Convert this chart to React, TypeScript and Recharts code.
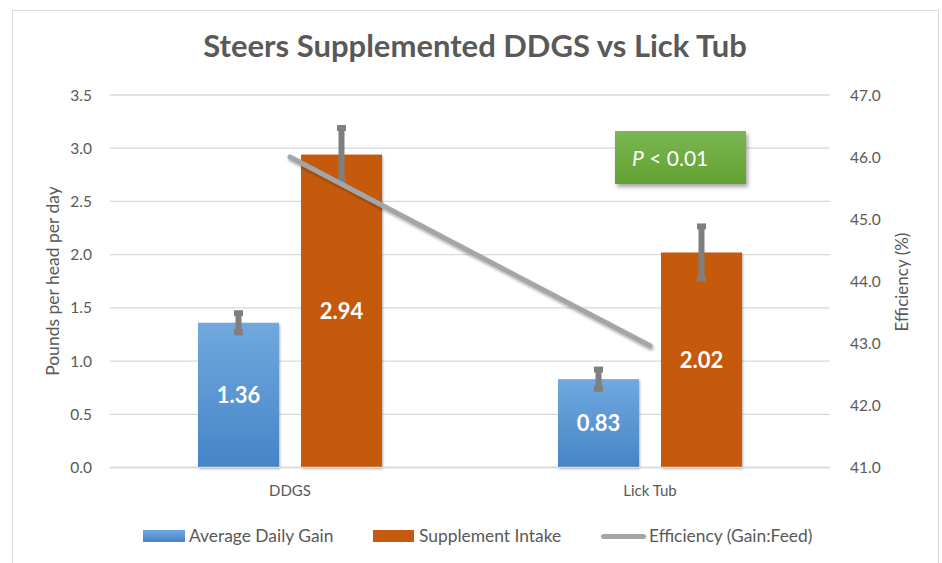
import React from 'react';
import {
  ComposedChart,
  Bar,
  Line,
  XAxis,
  YAxis,
  CartesianGrid,
  ErrorBar,
  LabelList,
} from 'recharts';

const categories = ['DDGS', 'Lick Tub'];
const averageDailyGain = [1.36, 0.83];
const averageDailyGainErr = [0.09, 0.09];
const supplementIntake = [2.94, 2.02];
const supplementIntakeErr = [0.25, 0.245];
const efficiency = [46.0, 42.96];
const leftTicks = [0, 0.5, 1.0, 1.5, 2.0, 2.5, 3.0, 3.5];
const rightTicks = [41, 42, 43, 44, 45, 46, 47];

const data = categories.map((c, i) => ({
  name: c,
  adg: averageDailyGain[i],
  adgErr: averageDailyGainErr[i],
  si: supplementIntake[i],
  siErr: supplementIntakeErr[i],
  eff: efficiency[i],
}));

const FONT = 'Lato, "Open Sans", sans-serif';
const GRAY = '#595959';

const BarShape = (props: any) => {
  const { x, y, width, height, fill } = props;
  return (
    <rect x={x} y={y} width={width} height={height} fill={fill} filter="url(#barShadow)" />
  );
};

export default function App() {
  return (
    <div style={{ position: 'absolute', left: 0, top: 0, width: 942, height: 563, background: '#fff', fontFamily: FONT, overflow: 'hidden' }}>
      <div style={{ position: 'absolute', left: 12, top: 10, width: 925, height: 570, border: '1.5px solid #d9d9d9' }} />
      <div style={{ position: 'absolute', left: 0, top: 26, width: 950, textAlign: 'center', fontSize: 31, fontWeight: 700, color: GRAY }}>
        Steers Supplemented DDGS vs Lick Tub
      </div>
      <div style={{ position: 'absolute', left: 0, top: 0 }}>
        <ComposedChart
          width={942}
          height={563}
          data={data}
          margin={{ top: 95, right: 0, bottom: 65.5, left: 0 }}
          barSize={81}
          barGap={22}
        >
          <defs>
            <linearGradient id="blueGrad" x1="0" y1="0" x2="0" y2="1">
              <stop offset="0%" stopColor="#71a9de" />
              <stop offset="100%" stopColor="#4584c8" />
            </linearGradient>
            <filter id="barShadow" x="-10%" y="-10%" width="125%" height="125%">
              <feDropShadow dx="1" dy="1.5" stdDeviation="1.2" floodColor="#000" floodOpacity="0.3" />
            </filter>
            <filter id="lineShadow" x="-10%" y="-20%" width="125%" height="150%">
              <feDropShadow dx="1" dy="2" stdDeviation="1.5" floodColor="#000" floodOpacity="0.35" />
            </filter>
          </defs>
          <CartesianGrid vertical={false} stroke="#d9d9d9" strokeWidth={1.3} yAxisId="left" />
          <XAxis
            dataKey="name"
            height={30}
            tickLine={false}
            axisLine={{ stroke: '#d9d9d9', strokeWidth: 1.3 }}
            tickMargin={12}
            tick={{ fill: GRAY, fontSize: 15, fontFamily: FONT }}
          />
          <YAxis
            yAxisId="left"
            orientation="left"
            width={110}
            domain={[0, 3.5]}
            ticks={leftTicks}
            tickFormatter={(v: number) => v.toFixed(1)}
            axisLine={false}
            tickLine={false}
            tickMargin={12}
            tick={{ fill: GRAY, fontSize: 15.5, fontFamily: FONT }}
            label={{
              content: () => (
                <text x={52} y={281} transform="rotate(-90 52 281)" textAnchor="middle" dominantBaseline="central" fill={GRAY} fontSize={17.5} fontFamily={FONT}>
                  Pounds per head per day
                </text>
              ),
            }}
          />
          <YAxis
            yAxisId="right"
            orientation="right"
            width={112}
            domain={[41, 47]}
            ticks={rightTicks}
            tickFormatter={(v: number) => v.toFixed(1)}
            axisLine={false}
            tickLine={false}
            tickMargin={14}
            tick={{ fill: GRAY, fontSize: 15.5, fontFamily: FONT }}
            label={{
              content: () => (
                <text x={901} y={282} transform="rotate(-90 901 282)" textAnchor="middle" dominantBaseline="central" fill={GRAY} fontSize={17} fontFamily={FONT}>
                  Efficiency (%)
                </text>
              ),
            }}
          />
          <Bar yAxisId="left" dataKey="adg" fill="url(#blueGrad)" isAnimationActive={false} shape={BarShape}>
            <LabelList dataKey="adg" position="center" fill="#fff" fontSize={22} fontWeight={700} fontFamily={FONT} formatter={(v: any) => Number(v).toFixed(2)} />
            <ErrorBar dataKey="adgErr" direction="y" width={4.5} strokeWidth={6} stroke="#7f7f7f" />
          </Bar>
          <Bar yAxisId="left" dataKey="si" fill="#c55a11" isAnimationActive={false} shape={BarShape}>
            <LabelList dataKey="si" position="center" fill="#fff" fontSize={22} fontWeight={700} fontFamily={FONT} formatter={(v: any) => Number(v).toFixed(2)} />
            <ErrorBar dataKey="siErr" direction="y" width={4.5} strokeWidth={6} stroke="#7f7f7f" />
          </Bar>
          <Line
            yAxisId="right"
            dataKey="eff"
            type="linear"
            stroke="#a5a5a5"
            strokeWidth={5}
            strokeLinecap="round"
            dot={false}
            activeDot={false}
            isAnimationActive={false}
            style={{ filter: 'url(#lineShadow)' }}
          />
        </ComposedChart>
      </div>
      <div
        style={{
          position: 'absolute', left: 615, top: 131, width: 131, height: 53,
          background: 'linear-gradient(#7bb652, #62a232)',
          boxShadow: '2px 3px 4px rgba(0,0,0,0.35)',
          color: '#fff', fontSize: 21, display: 'flex', alignItems: 'center', paddingLeft: 17, boxSizing: 'border-box',
        }}
      >
        <span style={{ fontStyle: 'italic' }}>P</span>&nbsp;&lt; 0.01
      </div>
      <div style={{ position: 'absolute', left: 143, top: 525, height: 22, fontSize: 17.4, color: GRAY, whiteSpace: 'nowrap' }}>
        <span style={{ position: 'absolute', left: 0, top: 5, width: 42, height: 12, background: 'linear-gradient(#71a9de, #4584c8)' }} />
        <span style={{ position: 'absolute', left: 46, top: 0 }}>Average Daily Gain</span>
        <span style={{ position: 'absolute', left: 230, top: 5, width: 41, height: 12, background: '#c55a11' }} />
        <span style={{ position: 'absolute', left: 276, top: 0 }}>Supplement Intake</span>
        <span style={{ position: 'absolute', left: 458, top: 8.5, width: 45, height: 5, borderRadius: 3, background: '#a5a5a5' }} />
        <span style={{ position: 'absolute', left: 506, top: 0 }}>Efficiency (Gain:Feed)</span>
      </div>
    </div>
  );
}
